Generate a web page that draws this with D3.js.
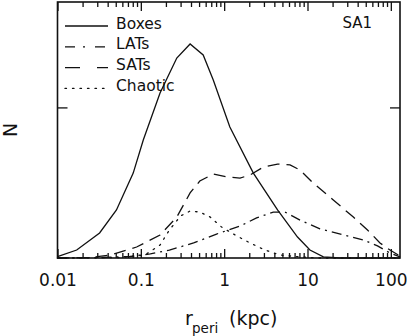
<!DOCTYPE html>
<html>
<head>
<meta charset="utf-8">
<script src="https://cdn.jsdelivr.net/npm/d3@7"></script>
<style>
  body { margin: 0; background: #fff; }
  svg { display: block; font-family: "DejaVu Sans", Arial, Helvetica, sans-serif; }
</style>
</head>
<body>
<svg id="chart" width="407" height="336"></svg>
<script>
// pericentre distance (kpc) and counts per orbit family
const boxesR = [0.01, 0.017, 0.032, 0.051, 0.081, 0.107, 0.17, 0.27, 0.39, 0.56, 0.74, 1.17, 2.24, 4.37, 7.59, 10.7, 15.5, 24.5, 129];
const boxesN = [0.9, 5.3, 16.6, 31.9, 56.4, 78.4, 109.6, 132.8, 142.1, 134.8, 118.2, 87, 56.4, 31.9, 13.9, 5.3, 0.7, 0, 0];

const latsR = [0.01, 0.032, 0.074, 0.13, 0.22, 0.43, 0.81, 1.55, 2.45, 3.89, 5.37, 8.13, 14.1, 26.9, 46.8, 69.2, 97.7, 129];
const latsN = [0, 0.3, 1, 2.7, 5.3, 10, 15.9, 21.2, 26.6, 30.5, 30.5, 25.2, 19.3, 15.3, 12, 8, 3.3, 0.7];

const satsR = [0.01, 0.025, 0.043, 0.089, 0.17, 0.27, 0.39, 0.51, 0.74, 1.07, 1.55, 2.04, 2.95, 4.37, 6.17, 8.13, 11.7, 20.4, 35.5, 52.5, 74.1, 97.7, 129];
const satsN = [0, 0.3, 2, 7.3, 15.3, 27.2, 43.2, 51.1, 55.8, 53.8, 53.1, 55.1, 60.4, 62.4, 61.8, 58.4, 49.8, 38.5, 27.2, 18.6, 10, 5.3, 1.3];

const chaoticR = [0.01, 0.056, 0.112, 0.17, 0.22, 0.30, 0.39, 0.51, 0.68, 0.93, 1.35, 2.04, 3.09, 4.68, 8.13, 14.1, 129];
const chaoticN = [0, 0.3, 2, 8.6, 18.6, 27.9, 31.2, 30.5, 27.2, 20.6, 15.3, 10, 5.3, 2, 0.7, 0, 0];

const xMajor = [0.01, 0.1, 1, 10, 100];
const xLabels = ["0.01", "0.1", "1", "10", "100"];
const yTicks = [100];

const seriesNames = ["Boxes", "LATs", "SATs", "Chaotic"];

// plot box
const plotL = 57.5, plotR = 400, plotT = 2, plotB = 258;

const svg = d3.select("#chart");

const x = d3.scaleLog()
    .domain([0.01, Math.pow(10, 2.11)])
    .range([plotL, plotR]);

const y = d3.scaleLinear()
    .domain([0, 170])
    .range([plotB, plotT]);

// minor ticks 2..9 in each decade
const xMinor = [];
xMajor.forEach(d => {
    for (let k = 2; k <= 9; k++) {
        const v = d * k;
        if (v <= x.domain()[1]) xMinor.push(v);
    }
});

// bottom axis
svg.append("g")
    .attr("transform", `translate(0,${plotB})`)
    .call(d3.axisBottom(x).tickValues(xMinor).tickSize(-5).tickFormat(""))
    .call(g => g.select(".domain").remove());

svg.append("g")
    .attr("transform", `translate(0,${plotB})`)
    .call(d3.axisBottom(x).tickValues(xMajor).tickSize(-9).tickPadding(15.5)
        .tickFormat((d, i) => xLabels[i]))
    .call(g => g.select(".domain").remove())
    .call(g => g.selectAll("text").attr("font-size", "17px").attr("fill", "#111")
        .attr("font-family", "'DejaVu Sans', Arial, sans-serif"));

// top axis (mirror)
svg.append("g")
    .attr("transform", `translate(0,${plotT})`)
    .call(d3.axisTop(x).tickValues(xMinor).tickSize(-5).tickFormat(""))
    .call(g => g.select(".domain").remove());

svg.append("g")
    .attr("transform", `translate(0,${plotT})`)
    .call(d3.axisTop(x).tickValues(xMajor).tickSize(-9).tickFormat(""))
    .call(g => g.select(".domain").remove());

// left / right
svg.append("g")
    .attr("transform", `translate(${plotL},0)`)
    .call(d3.axisLeft(y).tickValues(yTicks).tickSize(-10).tickFormat(""))
    .call(g => g.select(".domain").remove());

svg.append("g")
    .attr("transform", `translate(${plotR},0)`)
    .call(d3.axisRight(y).tickValues(yTicks).tickSize(-10).tickFormat(""))
    .call(g => g.select(".domain").remove());

svg.selectAll(".tick line").attr("stroke", "#111").attr("stroke-width", 1.3);

// frame
svg.append("rect")
    .attr("x", plotL).attr("y", plotT)
    .attr("width", plotR - plotL).attr("height", plotB - plotT)
    .attr("fill", "none")
    .attr("stroke", "#111")
    .attr("stroke-width", 1.6);

// curves
const dashes = ["none", "10,5,2,5", "12,7", "1.5,6"];
const series = [
    { r: boxesR, n: boxesN },
    { r: latsR, n: latsN },
    { r: satsR, n: satsN },
    { r: chaoticR, n: chaoticN }
];

const line = d3.line()
    .x(d => x(d[0]))
    .y(d => y(d[1]));

series.forEach((s, i) => {
    svg.append("path")
        .datum(s.r.map((r, j) => [r, s.n[j]]))
        .attr("d", line)
        .attr("fill", "none")
        .attr("stroke", "#111")
        .attr("stroke-width", 1.3)
        .attr("stroke-dasharray", dashes[i])
        .attr("stroke-linecap", i === 3 ? "round" : "butt");
});

// legend
const legend = svg.append("g");
seriesNames.forEach((name, i) => {
    const ly = 26 + i * 20.8;
    legend.append("line")
        .attr("x1", 65).attr("x2", 108)
        .attr("y1", ly).attr("y2", ly)
        .attr("stroke", "#111")
        .attr("stroke-width", 1.3)
        .attr("stroke-dasharray", i === 2 ? "15,17" : i === 1 ? "10,8,2,10" : dashes[i])
        .attr("stroke-linecap", i === 3 ? "round" : "butt");
    legend.append("text")
        .attr("x", 116).attr("y", ly + 2.5)
        .attr("font-size", "15.5px")
        .attr("fill", "#111")
        .text(name);
});

svg.append("text")
    .attr("x", 372).attr("y", 28)
    .attr("text-anchor", "end")
    .attr("font-size", "15px")
    .attr("fill", "#111")
    .text("SA1");

// axis titles
svg.append("text")
    .attr("x", 185).attr("y", 325)
    .attr("font-size", "19px")
    .attr("fill", "#111")
    .text("r");
svg.append("text")
    .attr("x", 192).attr("y", 333)
    .attr("font-size", "13.5px")
    .attr("fill", "#111")
    .text("peri");
svg.append("text")
    .attr("x", 229).attr("y", 325)
    .attr("font-size", "19px")
    .attr("fill", "#111")
    .text("(kpc)");

svg.append("text")
    .attr("transform", "translate(17,130) rotate(-90)")
    .attr("text-anchor", "middle")
    .attr("font-size", "19px")
    .attr("fill", "#111")
    .text("N");
</script>
</body>
</html>
